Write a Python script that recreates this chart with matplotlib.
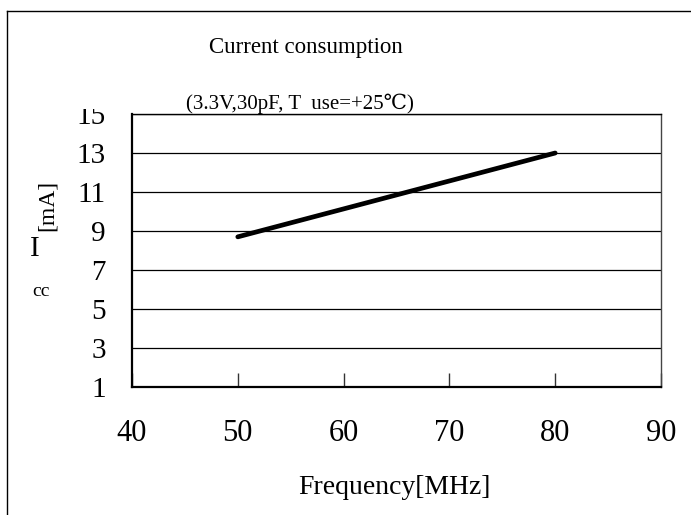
import matplotlib
matplotlib.use("Agg")
import matplotlib.pyplot as plt
from matplotlib.lines import Line2D
from matplotlib.transforms import Bbox

plt.rcParams['font.family'] = ['Liberation Serif', 'DejaVu Serif']

freq = [50, 80]
current = [8.7, 13.0]
x_ticks = [40, 50, 60, 70, 80, 90]
y_ticks = [1, 3, 5, 7, 9, 11, 13, 15]

title1 = "Current consumption"
title2 = "(3.3V,30pF, T  use=+25\u2103)"
xlabel = "Frequency[MHz]"

W, H = 691, 515
fig = plt.figure(figsize=(W / 100, H / 100), dpi=100)

def fx(px):
    return px / W

def fy(py):
    return 1 - py / H

ax = fig.add_axes([fx(132), fy(387), fx(661) - fx(132), fy(114) - fy(387)])
ax.set_xlim(40, 90)
ax.set_ylim(1, 15)
ax.set_xticks(x_ticks)
ax.set_yticks(y_ticks)
ax.set_xticklabels([str(v) for v in x_ticks], fontsize=22)
ax.set_yticklabels([str(v) for v in y_ticks], fontsize=21)
ax.tick_params(axis='x', direction='in', length=10, width=1, pad=23, color='#333333')
ax.tick_params(axis='y', length=0, pad=19)
ax.grid(axis='y', color='black', linewidth=0.9)
ax.set_axisbelow(True)

for s in ['left', 'bottom']:
    ax.spines[s].set_linewidth(1.6)
ax.spines['top'].set_linewidth(1.0)
ax.spines['right'].set_linewidth(1.0)
ax.spines['right'].set_color('#444444')

ax.plot(freq, current, color='black', linewidth=3.4, solid_capstyle='round')

# clip the top y tick label like the reference
clip = Bbox([[0, 0], [W, H - 109]])
for lab in ax.get_yticklabels():
    lab.set_clip_box(clip)
    lab.set_clip_on(True)

fig.text(fx(306), fy(48), title1, ha='center', va='center', fontsize=16.5)
fig.text(fx(300), fy(104), title2, ha='center', va='center', fontsize=15)
fig.text(fx(394), fy(487), xlabel, ha='center', va='center', fontsize=20)

fig.text(fx(35), fy(249), "I", ha='center', va='center', fontsize=21)
fig.text(fx(41), fy(291), "cc", ha='center', va='center', fontsize=14)
fig.text(fx(47), fy(205), "[mA]", ha='center', va='center', fontsize=17, rotation=90)

# outer frame
fig.add_artist(Line2D([fx(7), fx(7)], [0, fy(11)], color='black', linewidth=1.0,
                      transform=fig.transFigure))
fig.add_artist(Line2D([fx(7), 1], [fy(11), fy(11)], color='black', linewidth=1.0,
                      transform=fig.transFigure))

fig.savefig("out.png", dpi=100)
